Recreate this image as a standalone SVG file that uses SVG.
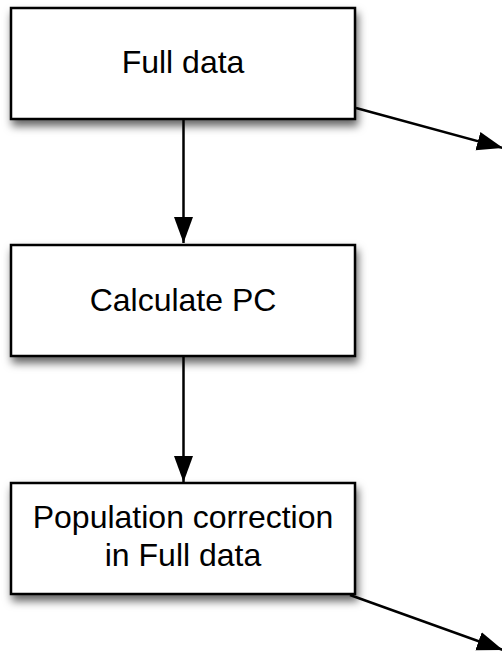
<svg xmlns="http://www.w3.org/2000/svg" width="502" height="651" viewBox="0 0 502 651">
<style>
.box{fill:#fff;stroke:#000;stroke-width:2.5;filter:url(#sh)}
.lbl{font-family:"Liberation Sans",Arial,sans-serif;font-size:32px;fill:#000;text-anchor:middle}
.edge{stroke:#000;stroke-width:2.5;fill:none;marker-end:url(#ah)}
</style>
<defs>
<filter id="sh" x="-10%" y="-20%" width="125%" height="150%">
<feDropShadow dx="2" dy="6" stdDeviation="4" flood-color="#000" flood-opacity="0.6"/>
</filter>
<marker id="ah" markerUnits="userSpaceOnUse" markerWidth="28" markerHeight="22" viewBox="0 0 28 22" refX="26" refY="11" orient="auto">
<path d="M0,1.5 L26,11 L0,20.5 Z" fill="#000"/>
</marker>
</defs>
<g id="edges">
<line class="edge" x1="183.5" y1="119" x2="183.5" y2="243"/>
<line class="edge" x1="183.5" y1="357" x2="183.5" y2="482"/>
<line class="edge" x1="356" y1="108" x2="503" y2="148"/>
<line class="edge" x1="350" y1="595" x2="503" y2="650"/>
</g>
<g id="n1">
<rect class="box" x="11" y="8" width="344" height="111"/>
<text class="lbl" x="183" y="73">Full data</text>
</g>
<g id="n2">
<rect class="box" x="11" y="245" width="344" height="111"/>
<text class="lbl" x="183" y="311">Calculate PC</text>
</g>
<g id="n3">
<rect class="box" x="11" y="483" width="344" height="111"/>
<text class="lbl" x="183" y="528">Population correction</text>
<text class="lbl" x="183" y="566">in Full data</text>
</g>
</svg>
